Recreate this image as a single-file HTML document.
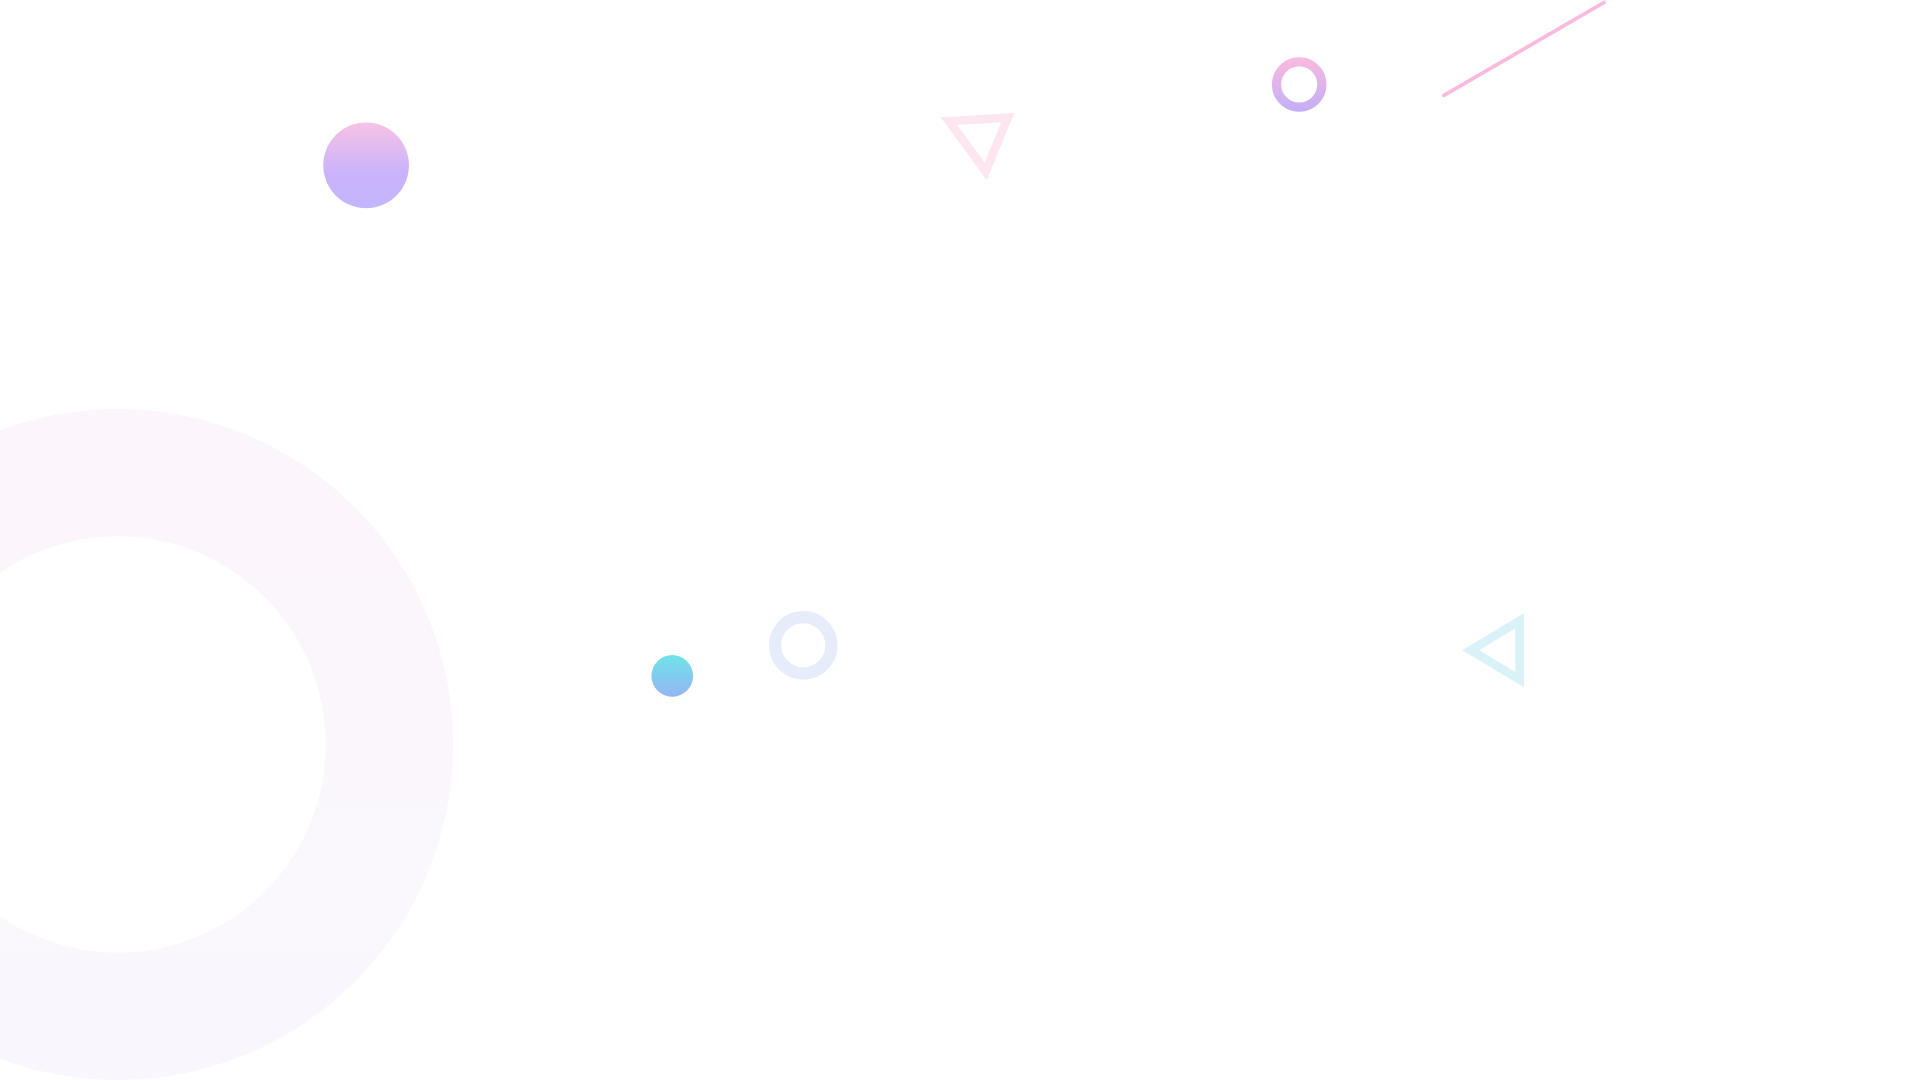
<!DOCTYPE html>
<html>
<head>
<meta charset="utf-8">
<style>
html,body{margin:0;padding:0;width:1920px;height:1080px;overflow:hidden;background:#fff;}
svg{display:block;}
</style>
</head>
<body>
<svg width="1920" height="1080" viewBox="0 0 1568 882" preserveAspectRatio="none" xmlns="http://www.w3.org/2000/svg">
<defs>
<linearGradient id="g1" x1="0" y1="0" x2="0" y2="1">
<stop offset="0" stop-color="#f7c2e6"/>
<stop offset="0.6" stop-color="#c9b3fb"/>
<stop offset="1" stop-color="#c4b5fd"/>
</linearGradient>
<linearGradient id="g2" x1="0" y1="0" x2="0" y2="1">
<stop offset="0" stop-color="#f6b9e0"/>
<stop offset="1" stop-color="#c6b0f5"/>
</linearGradient>
<linearGradient id="g3" x1="0" y1="0" x2="0" y2="1">
<stop offset="0" stop-color="#6fe3e8"/>
<stop offset="1" stop-color="#93b5f5"/>
</linearGradient>
<linearGradient id="g4" x1="0" y1="0" x2="0" y2="1">
<stop offset="0" stop-color="#fcf6fc"/>
<stop offset="1" stop-color="#f9f7fd"/>
</linearGradient>
</defs>
<circle cx="96" cy="608" r="222" fill="none" stroke="url(#g4)" stroke-width="104"/>
<circle cx="299" cy="135" r="35" fill="url(#g1)"/>
<polygon points="775,99 823,96 805,140" fill="none" stroke="#fde6f0" stroke-width="7"/>
<circle cx="1061" cy="69" r="18.5" fill="none" stroke="url(#g2)" stroke-width="7.5"/>
<line x1="1179" y1="78" x2="1310" y2="2" stroke="#f9badd" stroke-width="3" stroke-linecap="round"/>
<circle cx="549" cy="552" r="17" fill="url(#g3)"/>
<circle cx="656" cy="527" r="23" fill="none" stroke="#e6ecfa" stroke-width="10"/>
<polygon points="1201,531 1241,507 1241,555" fill="none" stroke="#d8f2f8" stroke-width="7"/>
</svg>
</body>
</html>
